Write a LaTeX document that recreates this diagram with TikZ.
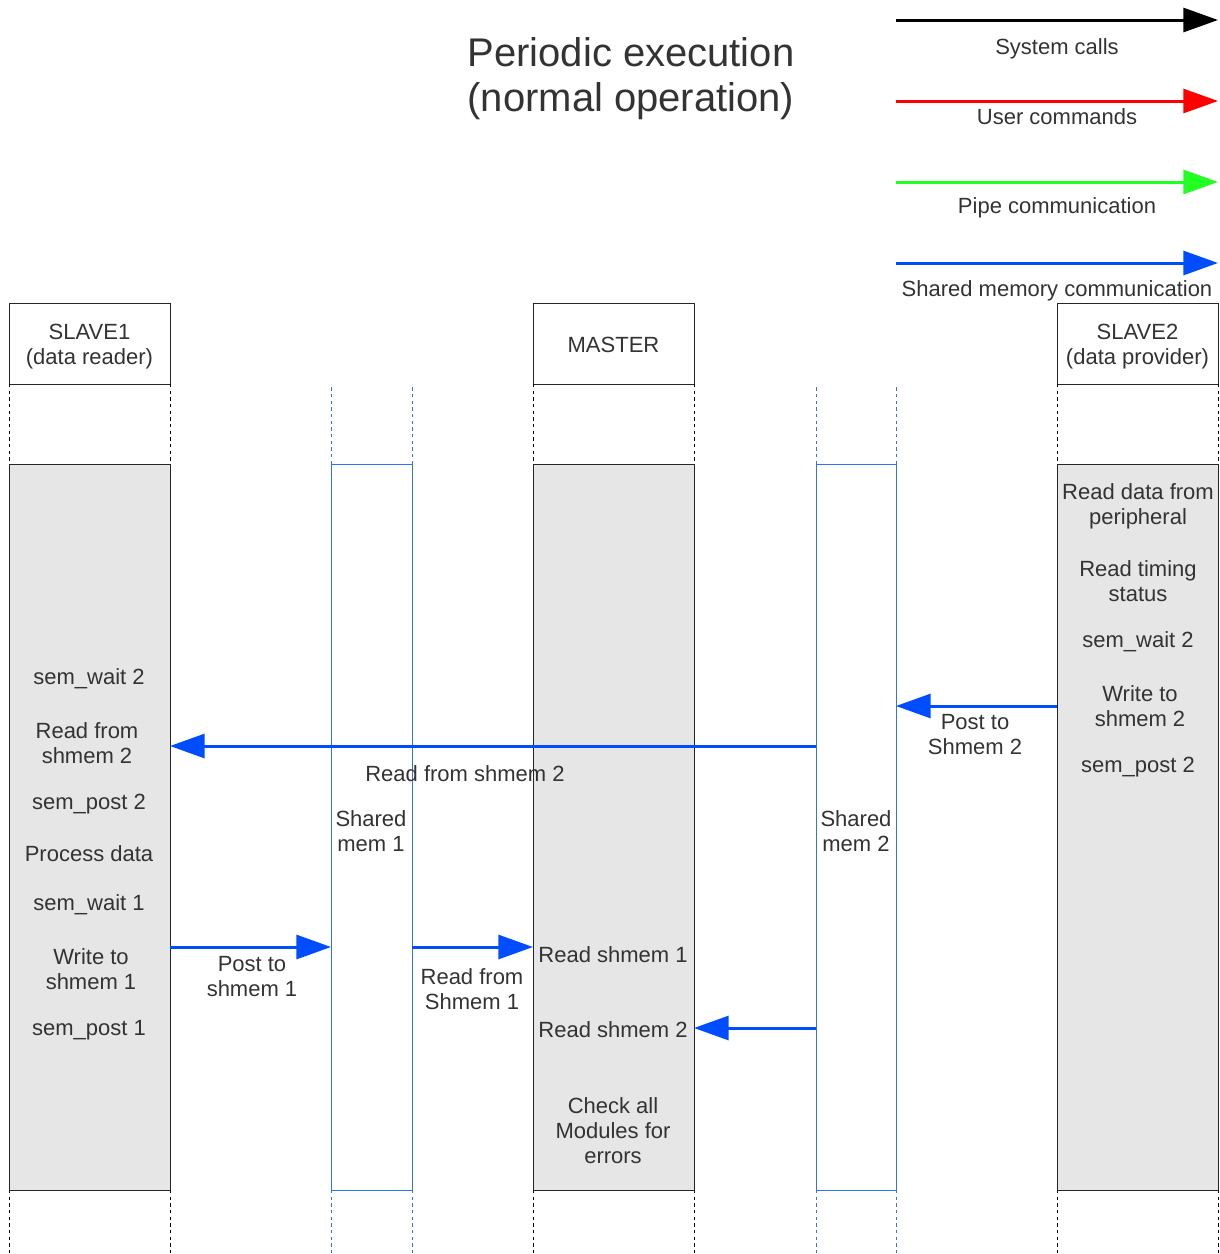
\documentclass[tikz,border=0pt]{standalone}
\usepackage{fontspec}
\setmainfont{Liberation Sans}
\usetikzlibrary{arrows.meta}
\definecolor{txtgray}{HTML}{333333}
\definecolor{barfill}{HTML}{E6E6E6}
\definecolor{msgblue}{HTML}{004CFF}
\definecolor{memblue}{HTML}{3070FF}
\definecolor{pipegreen}{HTML}{22FF22}
\definecolor{cmdred}{HTML}{FF0000}

\tikzset{
  lbl/.style={text=txtgray, font=\fontsize{16.5}{18.75}\selectfont, align=center, inner sep=0pt, yshift=-2.25pt},
  onel/.style={text=txtgray, font=\fontsize{16.5}{18.75}\selectfont, align=center, inner sep=0pt, yshift=-0.75pt},
  titletext/.style={text=txtgray, font=\fontsize{30}{33.75}\selectfont, align=center, inner sep=0pt},
  header/.style={draw=black!85, fill=white, line width=0.75pt, minimum width=120.75pt, minimum height=60.75pt,
                 inner sep=0pt, outer sep=0pt, anchor=north west},
  activity/.style={draw=black!85, fill=barfill, line width=0.75pt, minimum width=120.75pt, minimum height=544.5pt,
                   inner sep=0pt, outer sep=0pt, anchor=north west},
  membox/.style={draw=memblue, fill=white, line width=0.75pt, minimum height=544.5pt,
                 inner sep=0pt, outer sep=0pt, anchor=north west},
  life/.style={draw=black, line width=0.6pt, dash pattern=on 2.5pt off 2.5pt},
  memlife/.style={draw=memblue, line width=0.6pt, dash pattern=on 2.5pt off 2.5pt},
  tip/.style={-{Triangle[length=26pt, width=18pt]}, line width=2.25pt},
  msg/.style={tip, draw=msgblue, color=msgblue},
}

\begin{document}
\begin{tikzpicture}[x=0.75pt, y=-0.75pt]
\useasboundingbox (0,0) rectangle (1220,1254);

% title
\node[titletext] (title) at (631,79) {Periodic execution\\(normal operation)};

% legend
\coordinate (k1a) at (896,20);  \coordinate (k1b) at (1218,20);
\coordinate (k2a) at (896,101); \coordinate (k2b) at (1218,101);
\coordinate (k3a) at (896,182); \coordinate (k3b) at (1218,182);
\coordinate (k4a) at (896,263); \coordinate (k4b) at (1218,263);
\draw[tip, draw=black, color=black] (k1a) -- (k1b);
\draw[tip, draw=cmdred, color=cmdred] (k2a) -- (k2b);
\draw[tip, draw=pipegreen, color=pipegreen] (k3a) -- (k3b);
\draw[msg] (k4a) -- (k4b);
\node[lbl] (k1t) at (1057,46) {System calls};
\node[lbl] (k2t) at (1057,114) {User commands};
\node[lbl] (k3t) at (1057,205) {Pipe communication};
\node[lbl] (k4t) at (1057,288) {Shared memory communication};

% lifeline limits
\coordinate (top) at (0,384);
\coordinate (bot) at (0,1254);

% headers
\node[header] (s1h) at (9,303) {};
\node[header] (mh) at (533,303) {};
\node[header] (s2h) at (1057,303) {};
\node[lbl] (s1ht) at (s1h.center) {SLAVE1\\(data reader)};
\node[onel] (mht) at (mh.center) {MASTER};
\node[lbl] (s2ht) at (s2h.center) {SLAVE2\\(data provider)};

% activity bars
\node[activity] (s1b) at (9,464) {};
\node[activity] (mb) at (533,464) {};
\node[activity] (s2b) at (1057,464) {};

% shared memory segments
\node[membox, minimum width=60.75pt] (shm1) at (331,464) {};
\node[membox, minimum width=60pt] (shm2) at (816,464) {};

% lifelines
\foreach \n in {s1,m,s2}{
  \draw[life] (\n h.south west) -- (\n b.north west);
  \draw[life] (\n h.south east) -- (\n b.north east);
  \draw[life] (\n b.south west) -- (\n b.south west |- bot);
  \draw[life] (\n b.south east) -- (\n b.south east |- bot);
}
\foreach \n in {shm1,shm2}{
  \draw[memlife] (\n.north west) -- (\n.north west |- top);
  \draw[memlife] (\n.north east) -- (\n.north east |- top);
  \draw[memlife] (\n.south west) -- (\n.south west |- bot);
  \draw[memlife] (\n.south east) -- (\n.south east |- bot);
}

% shared memory labels
\node[lbl] (shm1t) at (371,828) {Shared\\mem 1};
\node[lbl] (shm2t) at (856,828) {Shared\\mem 2};

% SLAVE1 steps
\node[onel] (s1a) at (89,678) {sem\_wait 2};
\node[lbl] (s1c) at (87,740) {Read from\\shmem 2};
\node[onel] (s1d) at (89,803) {sem\_post 2};
\node[onel] (s1e) at (89,853) {Process data};
\node[onel] (s1f) at (89,904) {sem\_wait 1};
\node[lbl] (s1g) at (91,966) {Write to\\shmem 1};
\node[onel] (s1i) at (89,1029) {sem\_post 1};

% SLAVE2 steps
\node[lbl] (s2a) at (1138,503) {Read data from\\peripheral};
\node[lbl] (s2c) at (1138,578) {Read timing\\status};
\node[onel] (s2d) at (1138,641) {sem\_wait 2};
\node[lbl] (s2e) at (1140,703) {Write to\\shmem 2};
\node[onel] (s2f) at (1138,766) {sem\_post 2};

% MASTER steps
\node[onel] (ma) at (613,954) {Read shmem 1};
\node[onel] (mc) at (613,1029) {Read shmem 2};
\node[lbl] (md) at (613,1128) {Check all\\Modules for\\errors};

% message levels
\coordinate (y1) at (0,746);
\coordinate (y2) at (0,706);
\coordinate (y3) at (0,947);
\coordinate (y5) at (0,1028);

% messages
\draw[msg] (shm2.west |- y1) -- (s1b.east |- y1);
\node[onel] (m1t) at (465,773) {Read from shmem 2};

\draw[msg] (s2b.west |- y2) -- (shm2.east |- y2);
\node[lbl] (m2t) at (975,732) {Post to\\Shmem 2};

\draw[msg] (s1b.east |- y3) -- (shm1.west |- y3);
\node[lbl] (m3t) at (252,974) {Post to\\shmem 1};

\draw[msg] (shm1.east |- y3) -- (mb.west |- y3);
\node[lbl] (m4t) at (472,986) {Read from\\Shmem 1};

\draw[msg] (shm2.west |- y5) -- (mb.east |- y5);
\end{tikzpicture}
\end{document}
